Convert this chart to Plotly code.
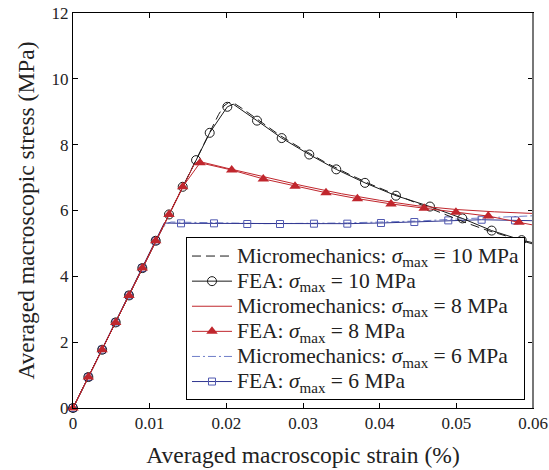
import plotly.graph_objects as go

# ---- data: averaged macroscopic strain (%) vs averaged macroscopic stress (MPa) ----
# Micromechanics predictions (smooth curves)
micro10_strain = [0, 0.01431, 0.0160, 0.0178, 0.0190, 0.0197, 0.0203, 0.0210, 0.0220, 0.0240,
                  0.0270, 0.0300, 0.0330, 0.0360, 0.0390, 0.0420, 0.0450, 0.0480, 0.0510,
                  0.0540, 0.0570, 0.0600]
micro10_stress = [0, 6.72, 7.53, 8.36, 8.92, 9.18, 9.28, 9.26, 9.11, 8.78,
                  8.28, 7.85, 7.45, 7.10, 6.78, 6.49, 6.21, 5.92, 5.65,
                  5.40, 5.18, 4.98]

micro8_strain = [0, 0.01431, 0.0158, 0.0163, 0.0170, 0.0200, 0.0250, 0.0300, 0.0350, 0.0400,
                 0.0450, 0.0500, 0.0550, 0.0600]
micro8_stress = [0, 6.72, 7.40, 7.49, 7.46, 7.29, 7.01, 6.75, 6.51, 6.31,
                 6.14, 6.03, 5.96, 5.91]

micro6_strain = [0, 0.01079, 0.0113, 0.0118, 0.0123, 0.0128, 0.0135, 0.0180, 0.0250, 0.0300,
                 0.0350, 0.0400, 0.0450, 0.0500, 0.0550, 0.0600]
micro6_stress = [0, 5.08, 5.30, 5.50, 5.61, 5.65, 5.65, 5.63, 5.60, 5.60,
                 5.62, 5.65, 5.68, 5.74, 5.79, 5.84]

# FEA results: full load path
fea10_strain = [0, 0.00200, 0.00380, 0.00557, 0.00730, 0.00904, 0.01079, 0.01252, 0.01431,
                0.01605, 0.01783, 0.02013, 0.02090, 0.02400, 0.02722, 0.03082, 0.03434,
                0.03808, 0.04213, 0.04656, 0.05078, 0.05461, 0.05852, 0.06000]
fea10_stress = [0, 0.94, 1.77, 2.60, 3.42, 4.25, 5.08, 5.88, 6.72,
                7.53, 8.36, 9.15, 9.23, 8.73, 8.20, 7.70, 7.25,
                6.84, 6.45, 6.12, 5.76, 5.39, 5.10, 5.02]

fea8_strain = [0, 0.00200, 0.00380, 0.00557, 0.00730, 0.00904, 0.01079, 0.01252, 0.01431,
               0.01657, 0.02070, 0.02482, 0.02896, 0.03300, 0.03710, 0.04148, 0.04580,
               0.04995, 0.05417, 0.05817, 0.06000]
fea8_stress = [0, 0.94, 1.77, 2.60, 3.42, 4.25, 5.08, 5.88, 6.72,
               7.45, 7.23, 6.96, 6.74, 6.54, 6.36, 6.20, 6.07,
               5.95, 5.83, 5.64, 5.56]

fea6_strain = [0, 0.00200, 0.00380, 0.00557, 0.00730, 0.00904, 0.01079, 0.01190,
               0.01409, 0.01839, 0.02273, 0.02700, 0.03143, 0.03578, 0.04017, 0.04452,
               0.04895, 0.05330, 0.05765, 0.06000]
fea6_stress = [0, 0.94, 1.77, 2.60, 3.42, 4.25, 5.08, 5.62,
               5.61, 5.61, 5.59, 5.59, 5.60, 5.60, 5.62, 5.65,
               5.70, 5.72, 5.70, 5.69]

# load steps of each FEA path that carry a marker
fea10_marked = [i for i in range(len(fea10_strain)) if i not in (12, 23)]
fea8_marked = [i for i in range(len(fea8_strain)) if i != 20]
fea6_marked = [i for i in range(len(fea6_strain)) if i not in (7, 19)]

legend_labels = [
    "Micromechanics: <i>σ</i><sub>max</sub> = 10 MPa",
    "FEA: <i>σ</i><sub>max</sub> = 10 MPa",
    "Micromechanics: <i>σ</i><sub>max</sub> = 8 MPa",
    "FEA: <i>σ</i><sub>max</sub> = 8 MPa",
    "Micromechanics: <i>σ</i><sub>max</sub> = 6 MPa",
    "FEA: <i>σ</i><sub>max</sub> = 6 MPa",
]

BLACK = "#1a1a1a"
RED = "#c0262d"
BLUE_DARK = "#2f3590"
BLUE_MARK = "#5058b0"
BLUE_LIGHT = "#6f7ec8"

styles = [
    dict(line=dict(color=BLACK, width=1, dash="9px,5px"), marker=None),
    dict(line=dict(color=BLACK, width=1), marker=dict(symbol="circle-open", size=9, color=BLACK, line=dict(width=1))),
    dict(line=dict(color=RED, width=1), marker=None),
    dict(line=dict(color=RED, width=1), marker=dict(symbol="triangle-up", size=10, color=RED)),
    dict(line=dict(color=BLUE_LIGHT, width=1, dash="8px,3px,2px,3px"), marker=None),
    dict(line=dict(color=BLUE_DARK, width=1), marker=dict(symbol="square-open", size=7, color=BLUE_MARK, line=dict(width=1))),
]

fig = go.Figure()


def add_path(x, y, style):
    fig.add_trace(go.Scatter(x=x, y=y, mode="lines", line=style["line"],
                             showlegend=False, hoverinfo="skip"))


def add_marks(x, y, idx, style):
    fig.add_trace(go.Scatter(x=[x[i] for i in idx], y=[y[i] for i in idx], mode="markers",
                             marker=style["marker"], showlegend=False, cliponaxis=False))


# blue group underneath, then black, red on top
add_path(micro6_strain, micro6_stress, styles[4])
add_path(fea6_strain, fea6_stress, styles[5])
add_marks(fea6_strain, fea6_stress, fea6_marked, styles[5])

add_path(micro10_strain, micro10_stress, styles[0])
add_path(fea10_strain, fea10_stress, styles[1])
add_marks(fea10_strain, fea10_stress, fea10_marked, styles[1])

add_path(micro8_strain, micro8_stress, styles[2])
add_path(fea8_strain, fea8_stress, styles[3])
add_marks(fea8_strain, fea8_stress, fea8_marked, styles[3])

# legend entries (line + marker symbols); text enlarged inside a compact row
for label, st in zip(legend_labels, styles):
    mode = "lines+markers" if st["marker"] else "lines"
    kw = dict(marker=st["marker"]) if st["marker"] else {}
    fig.add_trace(go.Scatter(x=[None], y=[None], mode=mode,
                             name=f'<span style="font-size:21.5px">{label}</span>',
                             line=st["line"], **kw))

FONT = "Liberation Serif"

fig.update_layout(
    width=549, height=470,
    margin=dict(l=73, r=16, t=13, b=62),
    paper_bgcolor="white", plot_bgcolor="white",
    font=dict(family=FONT, size=17, color="#222"),
    showlegend=True,
    legend=dict(
        x=0.9826, y=0.019, xanchor="right", yanchor="bottom",
        bgcolor="white", bordercolor="black", borderwidth=1,
        font=dict(family=FONT, size=17, color="#222"),
        tracegroupgap=0, itemwidth=40,
    ),
    xaxis=dict(
        range=[0, 0.06], dtick=0.01, tick0=0, automargin=False,
        showgrid=False, zeroline=False,
        showline=True, linecolor="black", linewidth=1, mirror="ticks",
        ticks="inside", ticklen=5, tickcolor="black",
        tickfont=dict(family=FONT, size=17),
        title=dict(text="Averaged macroscopic strain (%)", font=dict(family=FONT, size=23.5), standoff=14),
    ),
    yaxis=dict(
        range=[0, 12], dtick=2, tick0=0, automargin=False,
        showgrid=False, zeroline=False,
        showline=True, linecolor="black", linewidth=1, mirror="ticks",
        ticks="inside", ticklen=5, tickcolor="black",
        tickfont=dict(family=FONT, size=17),
        title=dict(text="Averaged macroscopic stress (MPa)", font=dict(family=FONT, size=23.5), standoff=10),
    ),
    shapes=[dict(type="line", xref="paper", yref="paper", x0=1, x1=1, y0=0, y1=1,
                 line=dict(color="#777777", width=2))],
)

fig.write_html("out.html")
